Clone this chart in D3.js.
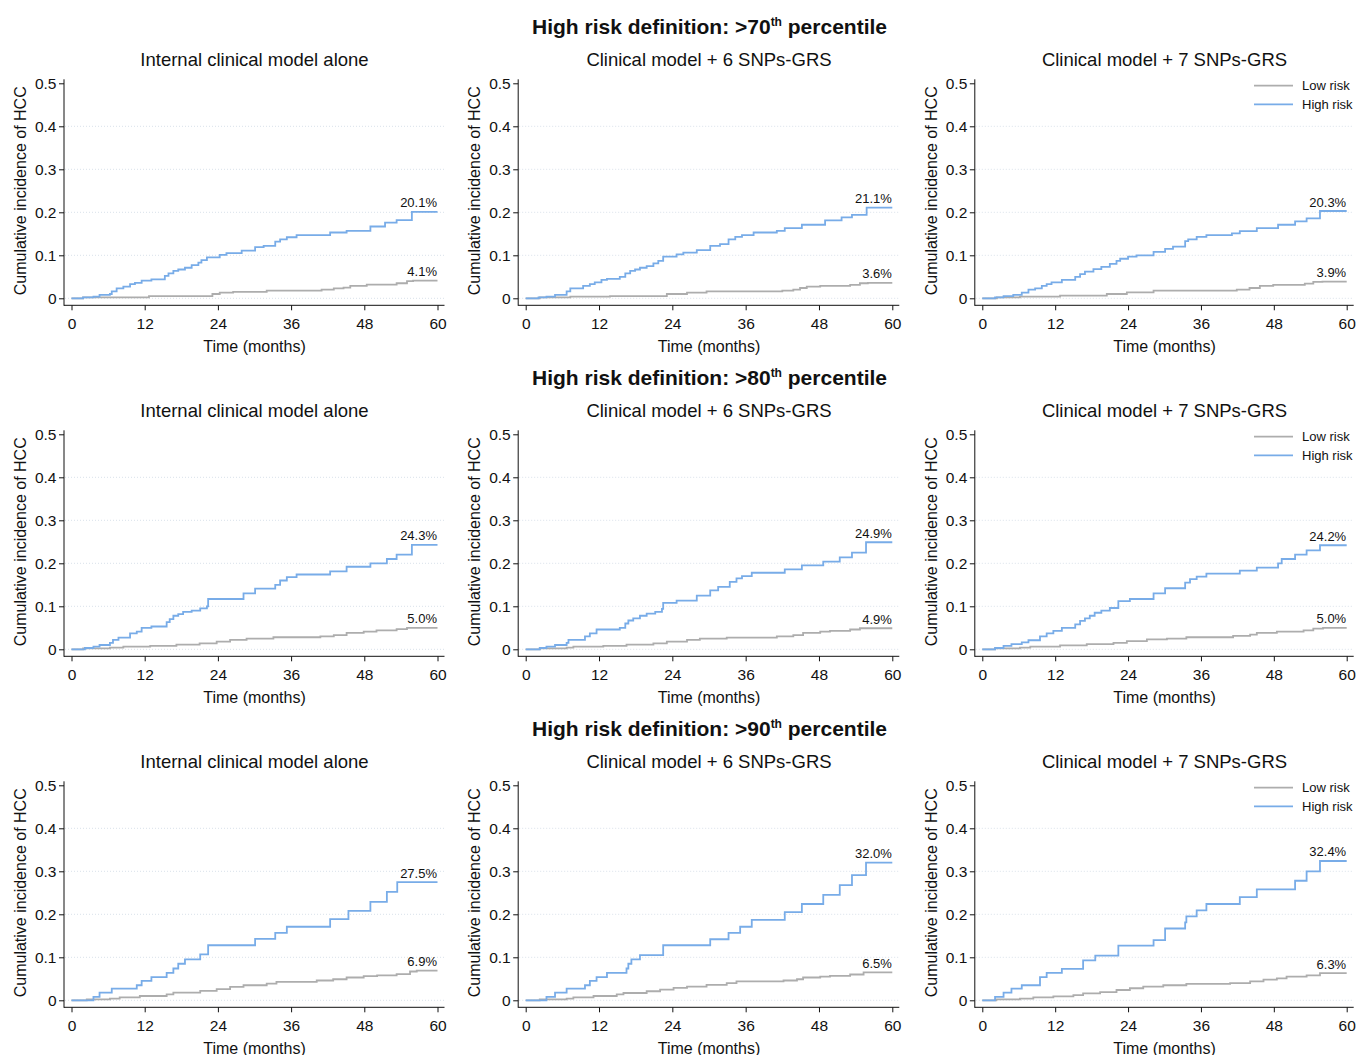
<!DOCTYPE html>
<html>
<head>
<meta charset="utf-8">
<script src="https://cdn.jsdelivr.net/npm/d3@7"></script>
<style>
  body { margin: 0; background: #fff; }
  text { font-family: "Liberation Sans", Arial, sans-serif; fill: #111; }
</style>
</head>
<body>
<div id="chart"></div>
<script>
// Labels
const cutoffs = ["70", "80", "90"];
const panelTitles = ["Internal clinical model alone", "Clinical model + 6 SNPs-GRS", "Clinical model + 7 SNPs-GRS"];
const seriesNames = ["Low risk", "High risk"];
const xTicks = [0, 12, 24, 36, 48, 60];
const yTicks = [0, 0.1, 0.2, 0.3, 0.4, 0.5];
const yTickLabels = ["0", "0.1", "0.2", "0.3", "0.4", "0.5"];

// final 60-month cumulative incidence (%), rows = cutoffs, cols = models
const finalLow = [[4.1, 3.6, 3.9], [5.0, 4.9, 5.0], [6.9, 6.5, 6.3]];
const finalHigh = [[20.1, 21.1, 20.3], [24.3, 24.9, 24.2], [27.5, 32.0, 32.4]];

// step curves [month, cumulative incidence]
// >70th percentile
const low70_clin = [[1.9,0.002],[12.7,0.005],[23.1,0.01],[24.3,0.013],[26.5,0.015],[32,0.018],[41,0.02],[43,0.023],[44.6,0.025],[45.7,0.029],[48.4,0.032],[53.3,0.035],[55,0.04],[56,0.041]];
const high70_clin = [[1.9,0.002],[3.6,0.004],[4.6,0.008],[6.3,0.01],[6.6,0.016],[7.4,0.023],[8.5,0.027],[9.6,0.033],[10.4,0.036],[11.5,0.041],[13.1,0.044],[15.3,0.052],[15.9,0.058],[16.7,0.064],[17.5,0.067],[18.6,0.071],[19.7,0.077],[20.8,0.083],[21.3,0.089],[22.2,0.095],[24.3,0.101],[25.4,0.105],[27.9,0.111],[30.1,0.119],[31.5,0.122],[33.4,0.132],[34.2,0.137],[35.3,0.142],[36.9,0.147],[42.4,0.153],[45.1,0.157],[49.0,0.167],[51.4,0.176],[53.3,0.182],[55.8,0.201]];
const low70_6 = [[2.3,0.002],[7.3,0.004],[13.8,0.005],[23.1,0.01],[26.4,0.013],[29.6,0.016],[42,0.018],[43.8,0.02],[44.9,0.024],[46,0.027],[48.2,0.029],[53.1,0.031],[54.7,0.035],[56,0.036]];
const high70_6 = [[2.1,0.002],[3.4,0.004],[4.8,0.008],[6.7,0.016],[7.3,0.023],[9.4,0.029],[10.5,0.033],[11.3,0.037],[12.4,0.043],[13.3,0.045],[15.4,0.05],[16.3,0.058],[17.1,0.064],[17.9,0.067],[18.7,0.071],[19.8,0.075],[20.9,0.081],[21.7,0.087],[22.5,0.097],[24.7,0.102],[25.8,0.106],[28.0,0.112],[30.2,0.122],[31.8,0.126],[33.2,0.137],[34.3,0.143],[35.4,0.147],[37.3,0.153],[41.1,0.157],[42.4,0.163],[45.2,0.171],[49.0,0.181],[51.7,0.188],[53.4,0.194],[55.8,0.211]];
const low70_7 = [[2.4,0.002],[6.2,0.004],[12.8,0.006],[20.5,0.01],[23.8,0.014],[28.2,0.018],[41.9,0.02],[44,0.024],[45.7,0.029],[47.9,0.031],[53.1,0.034],[54.5,0.038],[56,0.039]];
const high70_7 = [[2.1,0.002],[3.5,0.005],[5.1,0.008],[6.5,0.013],[7.6,0.02],[8.7,0.023],[9.8,0.029],[10.6,0.033],[11.4,0.037],[13.1,0.043],[15.3,0.05],[16.1,0.056],[16.9,0.062],[18.3,0.068],[19.6,0.073],[21.0,0.08],[22.1,0.087],[22.7,0.092],[24.0,0.097],[25.4,0.1],[28.2,0.108],[30.1,0.115],[31.4,0.12],[33.4,0.133],[33.9,0.137],[35.3,0.143],[36.9,0.147],[41.1,0.151],[42.4,0.156],[45.2,0.163],[48.7,0.171],[51.5,0.179],[53.4,0.186],[55.6,0.203]];
// >80th percentile
const low80_clin = [[1.9,0.002],[6.3,0.004],[8.5,0.006],[12.9,0.008],[17.2,0.011],[21,0.014],[23.8,0.018],[26,0.022],[28.7,0.025],[33.1,0.028],[40.8,0.03],[43,0.033],[45.1,0.038],[47.9,0.041],[50,0.044],[53.3,0.047],[55,0.05]];
const high80_clin = [[2.2,0.003],[3.6,0.006],[4.6,0.01],[6.3,0.015],[6.8,0.022],[7.7,0.027],[9.6,0.037],[10.7,0.041],[11.5,0.05],[13.1,0.053],[15.6,0.063],[16.1,0.07],[16.7,0.078],[17.5,0.082],[18.3,0.087],[19.7,0.09],[21.1,0.095],[22.2,0.1],[22.4,0.117],[28.2,0.13],[30.1,0.141],[33.4,0.15],[34.2,0.16],[35.3,0.168],[36.9,0.174],[42.4,0.181],[45.1,0.192],[49.0,0.2],[51.7,0.21],[53.3,0.22],[55.8,0.243]];
const low80_6 = [[2.3,0.002],[6.7,0.004],[7.8,0.006],[12.7,0.008],[16.5,0.011],[20.9,0.014],[23.1,0.018],[26.4,0.022],[28.5,0.025],[32.9,0.027],[41.1,0.03],[43.8,0.033],[45.4,0.038],[48.2,0.041],[49.8,0.043],[53.1,0.046],[54.7,0.049]];
const high80_6 = [[2.3,0.003],[3.4,0.006],[4.8,0.01],[6.7,0.015],[7.0,0.022],[9.7,0.03],[10.5,0.037],[11.6,0.046],[15.4,0.05],[16.3,0.06],[16.8,0.067],[17.6,0.072],[18.7,0.078],[19.8,0.083],[21.2,0.087],[22.3,0.094],[22.5,0.108],[24.7,0.113],[28.0,0.125],[30.2,0.137],[31.5,0.145],[33.4,0.157],[34.5,0.165],[35.4,0.17],[37.0,0.178],[42.4,0.186],[45.2,0.195],[48.7,0.204],[51.4,0.214],[53.4,0.225],[55.7,0.249]];
const low80_7 = [[2.1,0.002],[6.2,0.004],[7.9,0.006],[12.8,0.009],[17.2,0.012],[21.6,0.015],[23.8,0.019],[27.1,0.023],[30.4,0.025],[33.6,0.028],[41.3,0.031],[44.1,0.034],[45.2,0.038],[48.5,0.041],[52.9,0.044],[54.5,0.048],[56.1,0.05]];
const high80_7 = [[2.1,0.003],[3.5,0.008],[4.8,0.012],[6.5,0.016],[7.6,0.021],[9.5,0.03],[10.6,0.037],[11.7,0.043],[13.1,0.05],[15.3,0.058],[16.1,0.066],[16.9,0.072],[17.7,0.078],[18.5,0.085],[19.6,0.09],[21.0,0.096],[22.4,0.112],[24.3,0.117],[28.2,0.13],[30.1,0.142],[33.4,0.155],[34.2,0.163],[35.3,0.169],[36.9,0.176],[42.4,0.183],[45.2,0.19],[48.7,0.2],[49.3,0.21],[51.5,0.22],[53.4,0.23],[55.6,0.242]];
// >90th percentile
const low90_clin = [[2.5,0.002],[6.3,0.004],[7.9,0.007],[11.2,0.01],[15.6,0.014],[16.7,0.018],[21.1,0.022],[23.8,0.026],[26,0.031],[28.2,0.035],[32,0.039],[33.6,0.043],[40.2,0.046],[42.9,0.049],[45.1,0.053],[47.9,0.056],[50.1,0.058],[53.3,0.061],[55.5,0.067],[56.6,0.069]];
const high90_clin = [[3.6,0.008],[4.6,0.018],[6.6,0.027],[10.7,0.035],[11.5,0.045],[13.1,0.054],[15.6,0.064],[16.7,0.074],[17.5,0.085],[18.6,0.095],[21.1,0.107],[22.4,0.128],[30.1,0.143],[33.4,0.157],[35.3,0.171],[42.4,0.189],[45.4,0.208],[49.0,0.229],[51.7,0.252],[53.4,0.275]];
const low90_6 = [[2.3,0.002],[6.7,0.004],[7.8,0.007],[11.1,0.01],[14.9,0.014],[16,0.017],[19.8,0.021],[22,0.025],[24.2,0.029],[26.4,0.032],[29.6,0.036],[32.9,0.04],[34.5,0.044],[42.2,0.046],[44.4,0.049],[45.4,0.053],[48.2,0.055],[49.8,0.057],[53.1,0.06],[55.3,0.065]];
const high90_6 = [[3.4,0.008],[4.8,0.018],[6.7,0.027],[9.7,0.035],[10.5,0.045],[11.6,0.054],[13.3,0.064],[16.5,0.074],[16.8,0.085],[17.3,0.095],[18.7,0.105],[22.5,0.128],[30.2,0.142],[33.2,0.157],[35.1,0.171],[37.0,0.187],[42.4,0.205],[45.2,0.224],[48.7,0.245],[51.4,0.268],[53.4,0.291],[55.7,0.32]];
const low90_7 = [[2.3,0.002],[6.2,0.004],[8.4,0.007],[11.7,0.009],[15,0.012],[16.6,0.016],[19.4,0.019],[22.1,0.024],[24.3,0.028],[26.5,0.032],[29.8,0.035],[33.6,0.038],[40.8,0.04],[44.1,0.044],[46.3,0.048],[48.5,0.051],[50.1,0.055],[53.4,0.058],[55.6,0.063]];
const high90_7 = [[2.1,0.008],[3.5,0.018],[4.8,0.027],[6.5,0.035],[9.5,0.054],[10.6,0.064],[13.1,0.073],[16.6,0.093],[18.6,0.104],[22.4,0.127],[28.2,0.14],[30.1,0.167],[33.4,0.181],[33.6,0.195],[35.3,0.209],[36.9,0.224],[42.4,0.24],[45.2,0.258],[51.5,0.278],[53.4,0.3],[55.6,0.324]];

const lowCurves = [[low70_clin, low70_6, low70_7], [low80_clin, low80_6, low80_7], [low90_clin, low90_6, low90_7]];
const highCurves = [[high70_clin, high70_6, high70_7], [high80_clin, high80_6, high80_7], [high90_clin, high90_6, high90_7]];

// Layout
const colors = { low: "#adadad", high: "#78ace8" };
const colX = [[71.5, 437.5], [525.7, 892.3], [982.3, 1346.7]];
const rowY0 = [298.3, 649.3, 1000.3];
const plotH = 215;

const svg = d3.select("#chart").append("svg")
    .attr("width", 1359)
    .attr("height", 1055);

function fullCurve(steps, finalPct) {
    let pts = [[0, 0]].concat(steps);
    pts.push([60, finalPct / 100]);
    return pts;
}

cutoffs.forEach((cut, r) => {
    let y0 = rowY0[r];

    // row title
    let t = svg.append("text")
        .attr("x", 709.5)
        .attr("y", y0 - 264.3)
        .attr("text-anchor", "middle")
        .attr("font-weight", "bold")
        .attr("font-size", 21);
    t.append("tspan").text("High risk definition: >" + cut);
    t.append("tspan").attr("font-size", 12).attr("dy", -8).text("th");
    t.append("tspan").attr("dy", 8).text(" percentile");

    panelTitles.forEach((title, c) => {
        let x = d3.scaleLinear().domain([0, 60]).range(colX[c]);
        let y = d3.scaleLinear().domain([0, 0.5]).range([y0, y0 - plotH]);
        let axisX = colX[c][0] - 7.5;
        let axisY = y0 + 7;
        let g = svg.append("g");

        g.append("text")
            .attr("x", (colX[c][0] + colX[c][1]) / 2)
            .attr("y", y0 - 232.3)
            .attr("text-anchor", "middle")
            .attr("font-size", 18.5)
            .text(title);

        // dotted grid
        g.selectAll(".grid")
            .data(yTicks.slice(0, 5))
            .enter().append("line")
            .attr("x1", axisX + 1)
            .attr("x2", colX[c][1] + 7)
            .attr("y1", d => y(d))
            .attr("y2", d => y(d))
            .attr("stroke", "#d9e1ea")
            .attr("stroke-width", 1)
            .attr("stroke-dasharray", "1,2");

        // axes
        let gx = g.append("g")
            .attr("transform", `translate(0,${axisY})`)
            .call(d3.axisBottom(x).tickValues(xTicks).tickSize(5).tickPadding(7.7).tickFormat(d3.format("d")));
        gx.select(".domain").remove();
        gx.selectAll("text").attr("font-size", 15.5).attr("font-family", null).attr("fill", "#111");
        gx.selectAll("line").attr("stroke", "#111");

        let gy = g.append("g")
            .attr("transform", `translate(${axisX},0)`)
            .call(d3.axisLeft(y).tickValues(yTicks).tickSize(5).tickPadding(2.5).tickFormat((d, i) => yTickLabels[i]));
        gy.select(".domain").remove();
        gy.selectAll("text").attr("font-size", 15.5).attr("font-family", null).attr("fill", "#111");
        gy.selectAll("line").attr("stroke", "#111");

        g.append("line")
            .attr("x1", axisX).attr("x2", axisX)
            .attr("y1", y(0.5) - 4).attr("y2", axisY + 0.5)
            .attr("stroke", "#111");
        g.append("line")
            .attr("x1", axisX).attr("x2", colX[c][1] + 7)
            .attr("y1", axisY).attr("y2", axisY)
            .attr("stroke", "#111");

        // axis titles
        g.append("text")
            .attr("x", (colX[c][0] + colX[c][1]) / 2)
            .attr("y", y0 + 53.7)
            .attr("text-anchor", "middle")
            .attr("font-size", 16)
            .text("Time (months)");
        g.append("text")
            .attr("transform", `translate(${axisX - 38},${y(0.25)}) rotate(-90)`)
            .attr("text-anchor", "middle")
            .attr("font-size", 16)
            .text("Cumulative incidence of HCC");

        // curves
        let line = d3.line()
            .x(d => x(d[0]))
            .y(d => y(d[1]))
            .curve(d3.curveStepAfter);

        let lowPts = fullCurve(lowCurves[r][c], finalLow[r][c]);
        let highPts = fullCurve(highCurves[r][c], finalHigh[r][c]);

        g.append("path")
            .datum(lowPts)
            .attr("fill", "none")
            .attr("stroke", colors.low)
            .attr("stroke-width", 1.8)
            .attr("d", line);
        g.append("path")
            .datum(highPts)
            .attr("fill", "none")
            .attr("stroke", colors.high)
            .attr("stroke-width", 1.8)
            .attr("d", line);

        // end labels
        g.append("text")
            .attr("x", x(60) - 0.5)
            .attr("y", y(finalLow[r][c] / 100) - 4.5)
            .attr("text-anchor", "end")
            .attr("font-size", 13)
            .text(finalLow[r][c].toFixed(1) + "%");
        g.append("text")
            .attr("x", x(60) - 0.5)
            .attr("y", y(finalHigh[r][c] / 100) - 4.5)
            .attr("text-anchor", "end")
            .attr("font-size", 13)
            .text(finalHigh[r][c].toFixed(1) + "%");

        // legend on the right column
        if (c === 2) {
            let lg = g.append("g");
            seriesNames.forEach((name, i) => {
                let ly = y0 - 212.6 + i * 18.6;
                lg.append("line")
                    .attr("x1", 1254).attr("x2", 1293)
                    .attr("y1", ly).attr("y2", ly)
                    .attr("stroke", i === 0 ? colors.low : colors.high)
                    .attr("stroke-width", 1.8);
                lg.append("text")
                    .attr("x", 1302)
                    .attr("y", ly + 4.5)
                    .attr("font-size", 13)
                    .text(name);
            });
        }
    });
});
</script>
</body>
</html>
